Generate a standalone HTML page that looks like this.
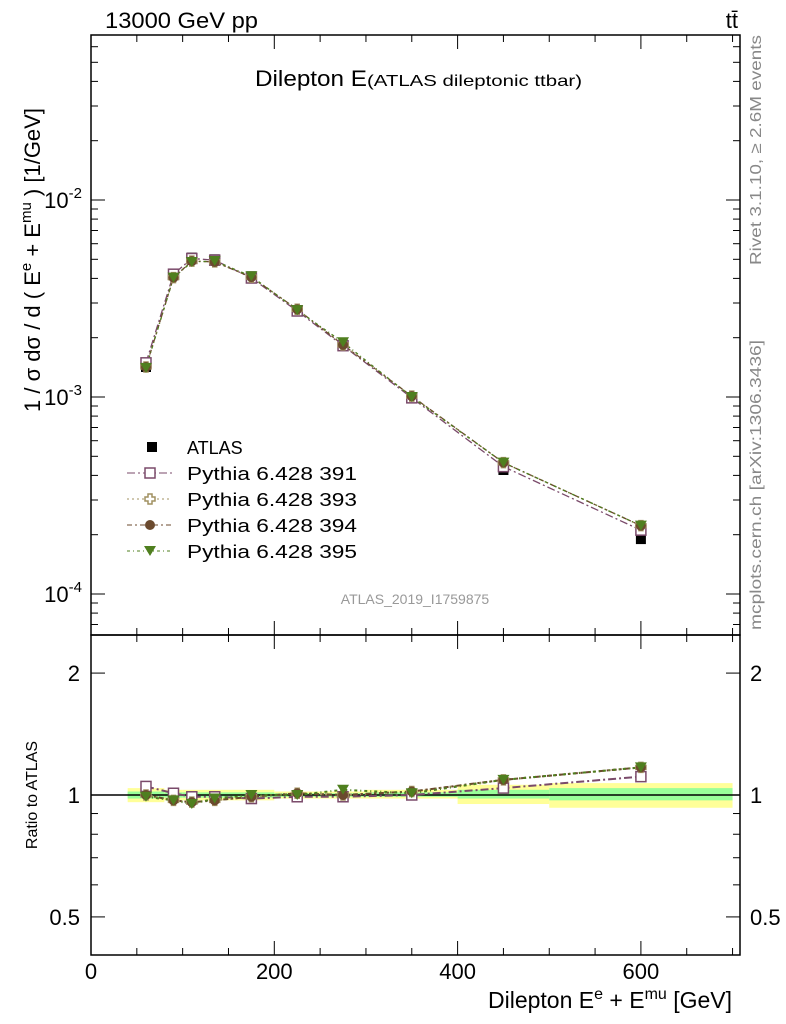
<!DOCTYPE html>
<html><head><meta charset="utf-8"><style>
body{margin:0;background:#fff;}
svg{display:block;font-family:"Liberation Sans",sans-serif;}
</style></head><body>
<svg id="chart" width="786" height="1024" viewBox="0 0 786 1024" xmlns="http://www.w3.org/2000/svg">
<g id="bands"></g>
<g id="marks"></g>
<g id="axes"></g>
<text x="105" y="28" font-size="22" textLength="153" lengthAdjust="spacingAndGlyphs">13000 GeV pp</text>
<text x="738" y="28" font-size="22" text-anchor="end">tt̄</text>
<text x="255" y="86" font-size="22"><tspan textLength="112" lengthAdjust="spacingAndGlyphs">Dilepton E</tspan><tspan font-size="16" textLength="215" lengthAdjust="spacingAndGlyphs">(ATLAS dileptonic ttbar)</tspan></text>
<text x="415" y="604" font-size="14" fill="#999" text-anchor="middle">ATLAS_2019_I1759875</text>
<text transform="translate(761,265) rotate(-90)" font-size="16" fill="#888" textLength="230" lengthAdjust="spacingAndGlyphs">Rivet 3.1.10, ≥ 2.6M events</text>
<text transform="translate(761,630) rotate(-90)" font-size="16" fill="#888" textLength="290" lengthAdjust="spacingAndGlyphs">mcplots.cern.ch [arXiv:1306.3436]</text>
<text transform="translate(40,412) rotate(-90)" font-size="22">1 / σ  dσ / d ( E<tspan dy="-9" font-size="15">e</tspan><tspan dy="9"> + E</tspan><tspan dy="-9" font-size="15">mu</tspan><tspan dy="9"> ) [1/GeV]</tspan></text>
<text transform="translate(37,795) rotate(-90)" font-size="16" text-anchor="middle">Ratio to ATLAS</text>
<text x="488" y="1008" font-size="23">Dilepton E<tspan dy="-9" font-size="16">e</tspan><tspan dy="9"> + E</tspan><tspan dy="-9" font-size="16">mu</tspan><tspan dy="9"> [GeV]</tspan></text>
<g id="legend"></g>
</svg>
<script>
const binEdges=[40,80,100,120,150,200,250,300,400,500,700];
const xCenters=[60,90,110,135,175,225,275,350,450,600];
const atlasVals=[1.42e-3,4.16e-3,5.1e-3,5.0e-3,4.1e-3,2.76e-3,1.84e-3,0.99e-3,0.426e-3,0.19e-3];
const ratio391=[1.05,1.01,0.99,0.99,0.98,0.99,0.99,1.0,1.04,1.11];
const ratio393=[1.0,0.97,0.96,0.97,0.99,1.01,1.0,1.02,1.09,1.17];
const ratio394=[1.0,0.97,0.96,0.97,0.99,1.01,1.0,1.02,1.09,1.17];
const ratio395=[0.99,0.97,0.95,0.98,1.0,1.0,1.03,1.01,1.09,1.17];
const yellowUp=[1.04,1.03,1.03,1.03,1.03,1.02,1.02,1.03,1.06,1.07];
const yellowDn=[0.96,0.97,0.97,0.97,0.97,0.98,0.98,0.98,0.95,0.93];
const greenUp=[1.02,1.015,1.015,1.015,1.015,1.01,1.01,1.015,1.03,1.04];
const greenDn=[0.98,0.985,0.985,0.985,0.985,0.99,0.99,0.99,0.98,0.97];
const xTicks=[0,200,400,600];
const yTicks=[-4,-3,-2];
const rTicks=[0.5,1,2];
const NS="http://www.w3.org/2000/svg";
const L=91,R=740,T=35,M=635,B=955;
const X=v=>L+v*(183.3/200);
const Y=v=>397-(Math.log10(v)+3)*197;
const RY=v=>795-Math.log10(v)*405;
function mk(tag,attrs,parent){const e=document.createElementNS(NS,tag);for(const k in attrs)e.setAttribute(k,attrs[k]);parent.appendChild(e);return e;}
const bands=document.getElementById('bands'),marks=document.getElementById('marks'),axes=document.getElementById('axes'),leg=document.getElementById('legend');
for(let i=0;i<xCenters.length;i++){
  let r=mk('rect',{x:X(binEdges[i]),y:RY(yellowUp[i]),width:X(binEdges[i+1])-X(binEdges[i]),height:RY(yellowDn[i])-RY(yellowUp[i]),fill:'#ffff99'},bands);
  
  
  let g=mk('rect',{x:X(binEdges[i]),y:RY(greenUp[i]),width:X(binEdges[i+1])-X(binEdges[i]),height:RY(greenDn[i])-RY(greenUp[i]),fill:'#99ff99'},bands);
  
  
}
mk('line',{x1:L,x2:R,y1:RY(1),y2:RY(1),stroke:'#000','stroke-width':1.5},bands);
const series=[
 {name:'391',r:ratio391,c:'#7a4a6a',m:'sq',d:'8,3,2,3'},
 {name:'393',r:ratio393,c:'#a09060',m:'cross',d:'2,3'},
 {name:'394',r:ratio394,c:'#6b4a2e',m:'circ',d:'5,3,2,3'},
 {name:'395',r:ratio395,c:'#4f7f1f',m:'tri',d:'3,3,1,3'}];
function marker(type,x,y,c,p,name){
  let e;
  if(type==='sq')e=mk('rect',{x:x-5,y:y-5,width:10,height:10,fill:'#fff',stroke:c,'stroke-width':1.5},p);
  else if(type==='cross')e=mk('path',{d:`M${x-2},${y-5}h4v3h3v4h-3v3h-4v-3h-3v-4h3z`,fill:'#fff',stroke:c,'stroke-width':1.5},p);
  else if(type==='circ')e=mk('circle',{cx:x,cy:y,r:5,fill:c},p);
  else if(type==='tri')e=mk('path',{d:`M${x-6},${y-5}h12l-6,10z`,fill:c},p);
  else e=mk('rect',{x:x-5,y:y-5,width:10,height:10,fill:'#000'},p);
  
  
}
series.forEach(s=>{
  let pm=xCenters.map((x,i)=>X(x)+','+Y(atlasVals[i]*s.r[i])).join(' ');
  let l1=mk('polyline',{points:pm,fill:'none',stroke:s.c,'stroke-width':1.3,'stroke-dasharray':s.d},marks);
  
  
  let pr=xCenters.map((x,i)=>X(x)+','+RY(s.r[i])).join(' ');
  let l2=mk('polyline',{points:pr,fill:'none',stroke:s.c,'stroke-width':2,'stroke-dasharray':s.d},marks);
  
  
});
xCenters.forEach((x,i)=>marker('atlas',X(x),Y(atlasVals[i]),'#000',marks,'atlas-point'));
series.forEach(s=>xCenters.forEach((x,i)=>{
  marker(s.m,X(x),Y(atlasVals[i]*s.r[i]),s.c,marks,'point-'+s.name);
  marker(s.m,X(x),RY(s.r[i]),s.c,marks,'ratio-point-'+s.name);
}));
mk('rect',{x:L,y:T,width:R-L,height:M-T,fill:'none',stroke:'#000','stroke-width':1.5},axes);
mk('rect',{x:L,y:M,width:R-L,height:B-M,fill:'none',stroke:'#000','stroke-width':1.5},axes);
for(let v=0;v<=700;v+=50){
  const len=v%200===0?14:7;
  for(const [y0,dir] of [[T,1],[M,-1],[M,1],[B,-1]]) mk('line',{x1:X(v),x2:X(v),y1:y0,y2:y0+dir*len,stroke:'#000'},axes);
}
xTicks.forEach(v=>{let t=mk('text',{x:X(v),y:979,'font-size':22,'text-anchor':'middle'},axes);t.textContent=v;
 });
for(let d=-5;d<=-1;d++)for(let k=1;k<10;k++){
  const v=k*Math.pow(10,d),y=Y(v);if(y<T||y>M)continue;const len=k===1?14:7;
  mk('line',{x1:L,x2:L+len,y1:y,y2:y,stroke:'#000'},axes);mk('line',{x1:R,x2:R-len,y1:y,y2:y,stroke:'#000'},axes);}
yTicks.forEach(d=>{let t=mk('text',{x:82,y:Y(Math.pow(10,d))+8,'font-size':22,'text-anchor':'end'},axes);
 t.innerHTML='10<tspan dy="-10" font-size="15">'+d+'</tspan>';
 });
[0.5,0.6,0.7,0.8,0.9,1,2].forEach(v=>{const y=RY(v),len=(v===0.5||v===1||v===2)?14:7;
  mk('line',{x1:L,x2:L+len,y1:y,y2:y,stroke:'#000'},axes);mk('line',{x1:R,x2:R-len,y1:y,y2:y,stroke:'#000'},axes);});
rTicks.forEach(v=>{for(const [x,a] of [[80,'end'],[750,'start']]){let t=mk('text',{x:x,y:RY(v)+8,'font-size':22,'text-anchor':a},axes);t.textContent=v;
 }});
const labels=['ATLAS','Pythia 6.428 391','Pythia 6.428 393','Pythia 6.428 394','Pythia 6.428 395'];
labels.forEach((lab,i)=>{const y=447+i*26;
  if(i>0){const s=series[i-1];mk('line',{x1:127,x2:172,y1:y,y2:y,stroke:s.c,'stroke-dasharray':s.d},leg);marker(s.m,150,y,s.c,leg,'legend-marker-'+s.name);}
  else marker('atlas',152,y,'#000',leg,'legend-marker-atlas');
  let t=mk('text',{x:187,y:y+7,'font-size':18},leg);t.textContent=lab;
  if(i>0){t.setAttribute('textLength','170');t.setAttribute('lengthAdjust','spacingAndGlyphs');}
  });
</script>
</body></html>
